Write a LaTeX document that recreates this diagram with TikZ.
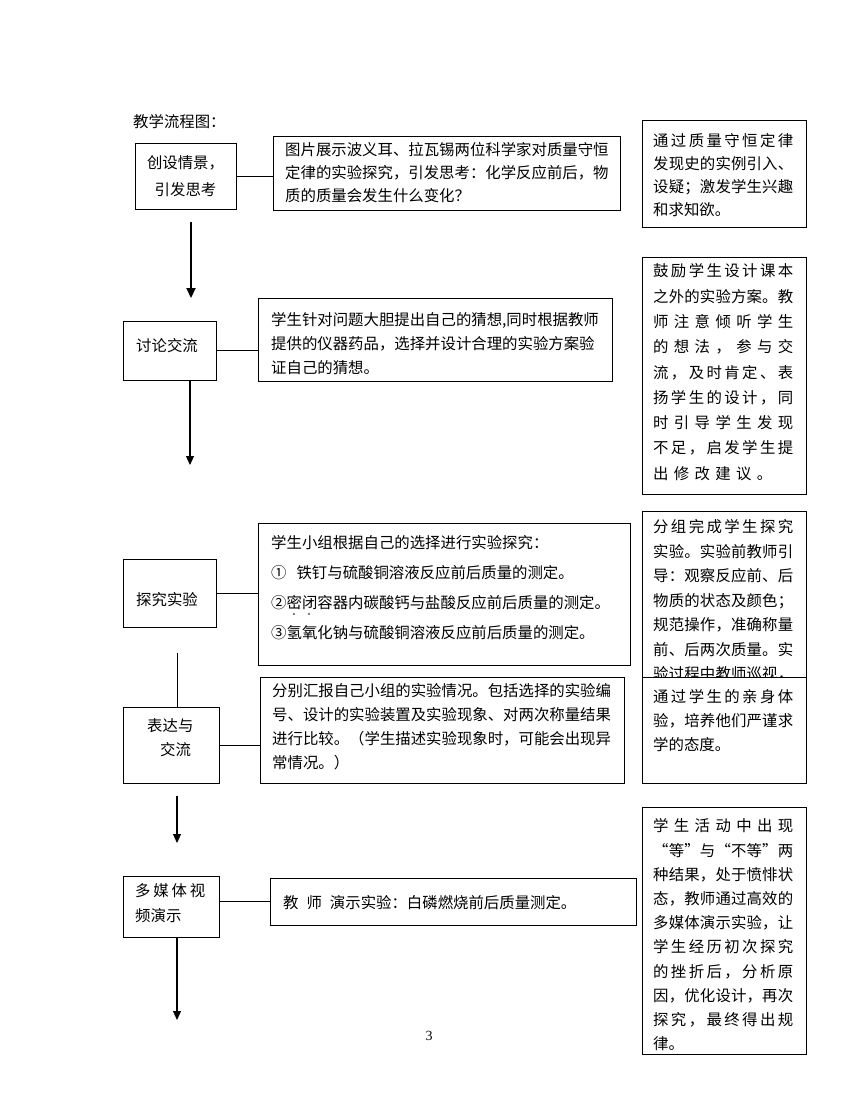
\documentclass[tikz,border=0pt]{standalone}
\usepackage{fontspec}
\setmainfont{Liberation Serif}
\newfontfamily\cjk{Noto Sans CJK SC}
\usetikzlibrary{arrows.meta}
\def\sprA#1{#1\sprB}
\def\sprB#1{\ifx\relax#1\else\hfill#1\expandafter\sprB\fi}
\newcommand\tline[4]{\node[txt] (#1) at (#2,#3) {#4};}
\newcommand\jline[5]{\node[txt] (#1) at (#2,#3) {\makebox[#4pt][l]{\sprA#5\relax}};}
\newcommand\boxat[6][]{\node[boxst,#1,minimum width=#5pt-#3pt,minimum height=#6pt-#4pt] (#2) at (#3,#4) {};}
\begin{document}
\begin{tikzpicture}[x=1pt,y=-1pt,
  txt/.style={font=\cjk\fontsize{15.4}{18}\selectfont,inner sep=0pt,anchor=west,text height=13.5pt,text depth=1.8pt},
  boxst/.style={draw,line width=0.9pt,anchor=north west,inner sep=0pt,outer sep=0pt},
  conn/.style={line width=0.9pt},
  arr/.style={line width=1.1pt,-{Triangle[length=9pt,width=8pt]}},
  arrthick/.style={line width=2pt,-{Triangle[length=10pt,width=9pt]}}]
\fill[white] (0,0) rectangle (860,1118);
\useasboundingbox (0,0) rectangle (860,1118);
% title
\tline{title}{133}{122}{教学流程图：}
% ---- row 1
\boxat{b1}{135}{143}{236}{209}
\node[txt,anchor=center] (b1a) at (185.5,163) {创设情景，};
\node[txt,anchor=center] (b1b) at (185.5,190) {引发思考};
\boxat{b2}{273}{136}{620}{210}
\tline{b2a}{285}{150}{图片展示波义耳、拉瓦锡两位科学家对质量守恒}
\tline{b2b}{285}{173}{定律的实验探究，引发思考：化学反应前后，物}
\tline{b2c}{285}{196}{质的质量会发生什么变化？}
\draw[conn] (b1.east) -- (b1.east -| b2.west);
\boxat{r1}{642}{120}{806}{227}
\jline{r1a}{653}{141}{140}{通过质量守恒定律}
\jline{r1b}{653}{164}{140}{发现史的实例引入、}
\jline{r1c}{653}{187}{140}{设疑；激发学生兴趣}
\tline{r1d}{653}{210}{和求知欲。}
\coordinate (a1s) at (191,222);
\coordinate (a1e) at (191,298);
\draw[arrthick] (a1s) -- (a1e);
% ---- row 2
\boxat{b3}{123}{321}{216}{380}
\tline{b3a}{136}{346}{讨论交流}
\boxat{b4}{258}{298}{612}{381}
\tline{b4a}{271}{320}{学生针对问题大胆提出自己的猜想,同时根据教师}
\tline{b4b}{271}{344}{提供的仪器药品，选择并设计合理的实验方案验}
\tline{b4c}{271}{368}{证自己的猜想。}
\draw[conn] (b3.east) -- (b3.east -| b4.west);
\boxat{r2}{642}{257}{806}{494}
\jline{r2a}{653}{271}{140}{鼓励学生设计课本}
\jline{r2b}{653}{296.3}{140}{之外的实验方案。教}
\jline{r2c}{653}{321.6}{140}{师注意倾听学生}
\jline{r2d}{653}{346.9}{140}{的想法，参与交}
\jline{r2e}{653}{372.2}{140}{流，及时肯定、表}
\jline{r2f}{653}{397.5}{140}{扬学生的设计，同}
\jline{r2g}{653}{422.8}{140}{时引导学生发现}
\jline{r2h}{653}{448.1}{140}{不足，启发学生提}
\jline{r2i}{653}{473.4}{119}{出修改建议。}
\coordinate (a2e) at (190,465);
\draw[arr] (b3.south -| a2e) -- (a2e);
% ---- row 3
\boxat{b5}{123}{559}{216}{627}
\tline{b5a}{136}{600}{探究实验}
\boxat{b6}{258}{523}{630}{665}
\tline{b6a}{271}{543}{学生小组根据自己的选择进行实验探究：}
\tline{b6b}{271}{573}{①\hspace{10pt}铁钉与硫酸铜溶液反应前后质量的测定。}
\tline{b6c}{271}{603}{②密闭容器内碳酸钙与盐酸反应前后质量的测定。}
\tline{b6d}{271}{633}{③氢氧化钠与硫酸铜溶液反应前后质量的测定。}
\fill (294,614) circle (0.9) (309,614) circle (0.9);
\draw[conn] (b5.east) -- (b5.east -| b6.west);
\boxat{r3}{642}{511}{806}{677}
\jline{r3a}{653}{527}{140}{分组完成学生探究}
\jline{r3b}{653}{551.5}{140}{实验。实验前教师引}
\jline{r3c}{653}{576}{140}{导：观察反应前、后}
\jline{r3d}{653}{600.5}{140}{物质的状态及颜色；}
\jline{r3e}{653}{625}{140}{规范操作，准确称量}
\jline{r3f}{653}{649.5}{140}{前、后两次质量。实}
\jline{r3g}{653}{674}{140}{验过程中教师巡视，}
% ---- row 4
\boxat[fill=white]{r4}{642}{677}{806}{783}
\jline{r4a}{653}{697}{140}{通过学生的亲身体}
\jline{r4b}{653}{721}{140}{验，培养他们严谨求}
\tline{r4c}{653}{745}{学的态度。}
\boxat{b7l}{123}{707}{219}{783}
\tline{b7la}{147}{726}{表达与}
\tline{b7lb}{160}{750}{交流}
\boxat{b7}{260}{677}{624}{783}
\tline{b7a}{272}{691}{分别汇报自己小组的实验情况。包括选择的实验编}
\tline{b7b}{272}{715}{号、设计的实验装置及实验现象、对两次称量结果}
\tline{b7c}{272}{739}{进行比较。（学生描述实验现象时，可能会出现异}
\tline{b7d}{272}{763}{常情况。）}
\draw[conn] (b7l.east) -- (b7l.east -| b7.west);
\coordinate (v1) at (177,653);
\draw[conn] (v1) -- (v1 |- b7l.north);
\coordinate (a3s) at (177,796);
\coordinate (a3e) at (177,843);
\draw[arr] (a3s) -- (a3e);
% ---- row 5
\boxat{b8}{123}{876}{219}{937}
\jline{b8a}{135}{891}{70}{多媒体视}
\tline{b8b}{135}{916}{频演示}
\boxat{b9}{270}{878}{636}{925}
\tline{b9a}{283}{903}{教\hspace{8pt}师\hspace{8pt}演示实验：白磷燃烧前后质量测定。}
\draw[conn] (b9.west -| b8.east) -- (b9.west);
\coordinate (a4e) at (177,1020);
\draw[arr] (b8.south -| a4e) -- (a4e);
\boxat{r5}{642}{807}{806}{1054}
\jline{r5a}{653}{826}{140}{学生活动中出现}
\jline{r5b}{653}{850.2}{140}{“等”与“不等”两}
\jline{r5c}{653}{874.4}{140}{种结果，处于愤悱状}
\jline{r5d}{653}{898.6}{140}{态，教师通过高效的}
\jline{r5e}{653}{922.8}{140}{多媒体演示实验，让}
\jline{r5f}{653}{947}{140}{学生经历初次探究}
\jline{r5g}{653}{971.2}{140}{的挫折后，分析原}
\jline{r5h}{653}{995.4}{140}{因，优化设计，再次}
\jline{r5i}{653}{1019.6}{140}{探究，最终得出规}
\tline{r5j}{653}{1043.8}{律。}
% page number
\node[inner sep=0pt,font=\fontsize{14}{16}\selectfont] (pg) at (429,1036) {3};
\end{tikzpicture}
\end{document}
